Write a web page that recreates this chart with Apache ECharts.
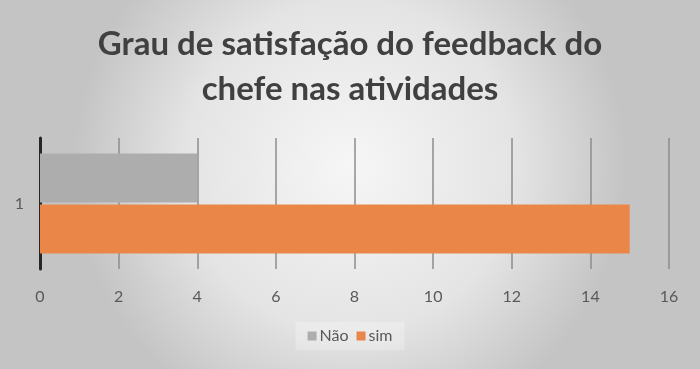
<!DOCTYPE html>
<html><head><meta charset="utf-8">
<script src="https://cdn.jsdelivr.net/npm/echarts@6/dist/echarts.min.js"></script>
<style>html,body{margin:0;padding:0;}#c{width:700px;height:369px;}</style>
</head><body><div id="c"></div>
<script>
const categories = ['1'];
const seriesNames = ['Não', 'sim'];
const naoValues = [4];
const simValues = [15];
const xTicks = { min: 0, max: 16, interval: 2 };

const chart = echarts.init(document.getElementById('c'));
chart.setOption({
  backgroundColor: {
    type: 'radial', x: 0.5, y: 0.45, r: 0.75,
    colorStops: [
      { offset: 0, color: '#f6f6f6' },
      { offset: 0.6, color: '#e4e4e4' },
      { offset: 1, color: '#c4c4c4' }
    ]
  },
  title: {
    text: 'Grau de satisfação do feedback do\nchefe nas atividades',
    left: 'center', top: 17,
    textStyle: { fontFamily: 'Lato', fontWeight: 'bold', fontSize: 33, color: '#404040', lineHeight: 45 }
  },
  legend: {
    data: seriesNames, bottom: 19, left: 'center',
    itemWidth: 9, itemHeight: 9, itemGap: 8,
    icon: 'rect',
    backgroundColor: 'rgba(255,255,255,0.25)', padding: [6, 12],
    textStyle: { fontFamily: 'Lato', fontSize: 16, color: '#595959', padding: [0, 0, 0, -2] }
  },
  grid: { left: 40, right: 31, top: 138, bottom: 100 },
  xAxis: {
    type: 'value', min: xTicks.min, max: xTicks.max, interval: xTicks.interval,
    axisLine: { show: false }, axisTick: { show: false },
    splitLine: { show: true, lineStyle: { color: '#8c8c8c', width: 1.5 } },
    axisLabel: { fontFamily: 'Lato', fontSize: 16, color: '#595959', margin: 20 }
  },
  yAxis: {
    type: 'category', data: categories, inverse: true,
    axisLine: { show: true, lineStyle: { color: '#262626', width: 3 } },
    axisTick: { show: false },
    axisLabel: { fontFamily: 'Lato', fontSize: 16, color: '#595959', margin: 16 }
  },
  series: [
    { name: seriesNames[0], type: 'bar', data: naoValues, barWidth: 49, barGap: '4%',
      itemStyle: { color: '#adadad' } },
    { name: seriesNames[1], type: 'bar', data: simValues, barWidth: 49, barGap: '4%',
      itemStyle: { color: '#ea8748' } }
  ]
});
</script></body></html>
